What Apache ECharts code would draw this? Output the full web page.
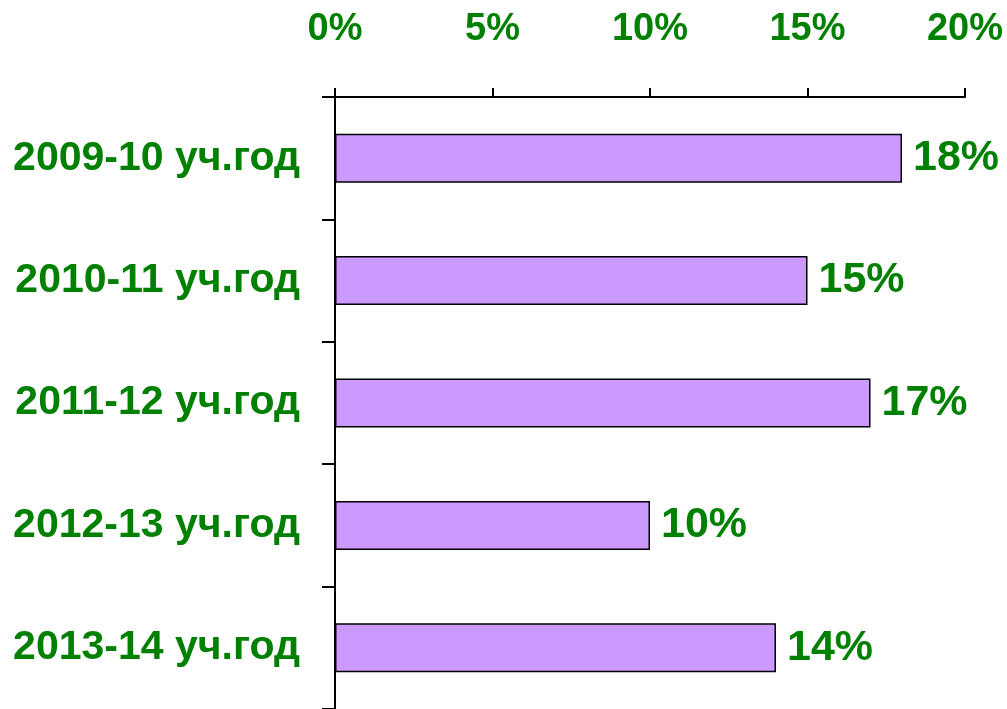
<!DOCTYPE html>
<html>
<head>
<meta charset="utf-8">
<script src="https://cdn.jsdelivr.net/npm/echarts@6/dist/echarts.min.js"></script>
<style>
  html, body { margin: 0; padding: 0; background: #fff; }
  #chart { width: 1007px; height: 709px; }
</style>
</head>
<body>
<div id="chart"></div>
<script>
var categories = ['2009-10 уч.год', '2010-11 уч.год', '2011-12 уч.год', '2012-13 уч.год', '2013-14 уч.год'];
var values = [18, 15, 17, 10, 14];
var xTicks = [0, 5, 10, 15, 20];

var green = '#008000';
var font = 'Liberation Sans, Arial, sans-serif';

var myChart = echarts.init(document.getElementById('chart'));
var option = {
    animation: false,
    grid: { left: 335, right: 42, top: 97, bottom: 0 },
    xAxis: {
        type: 'value',
        position: 'top',
        min: xTicks[0],
        max: xTicks[xTicks.length - 1],
        interval: 5,
        splitLine: { show: false },
        axisLine: { show: true, lineStyle: { color: '#000', width: 2 } },
        axisTick: { show: true, length: 9, lineStyle: { color: '#000', width: 2 } },
        axisLabel: {
            margin: 48,
            color: green,
            fontFamily: font,
            fontWeight: 'bold',
            fontSize: 38,
            formatter: '{value}%'
        }
    },
    yAxis: {
        type: 'category',
        inverse: true,
        data: categories,
        axisLine: { show: true, lineStyle: { color: '#000', width: 2 } },
        axisTick: { show: true, length: 13, lineStyle: { color: '#000', width: 2 } },
        axisLabel: {
            margin: 35,
            color: green,
            fontFamily: font,
            fontWeight: 'bold',
            fontSize: 41
        }
    },
    series: [{
        type: 'bar',
        data: values,
        barCategoryGap: '60%',
        itemStyle: { color: '#CC99FF', borderColor: '#000', borderWidth: 1.5 },
        label: {
            show: true,
            position: 'right',
            distance: 11,
            color: green,
            fontFamily: font,
            fontWeight: 'bold',
            fontSize: 43,
            formatter: '{c}%'
        }
    }]
};
myChart.setOption(option);
</script>
</body>
</html>
